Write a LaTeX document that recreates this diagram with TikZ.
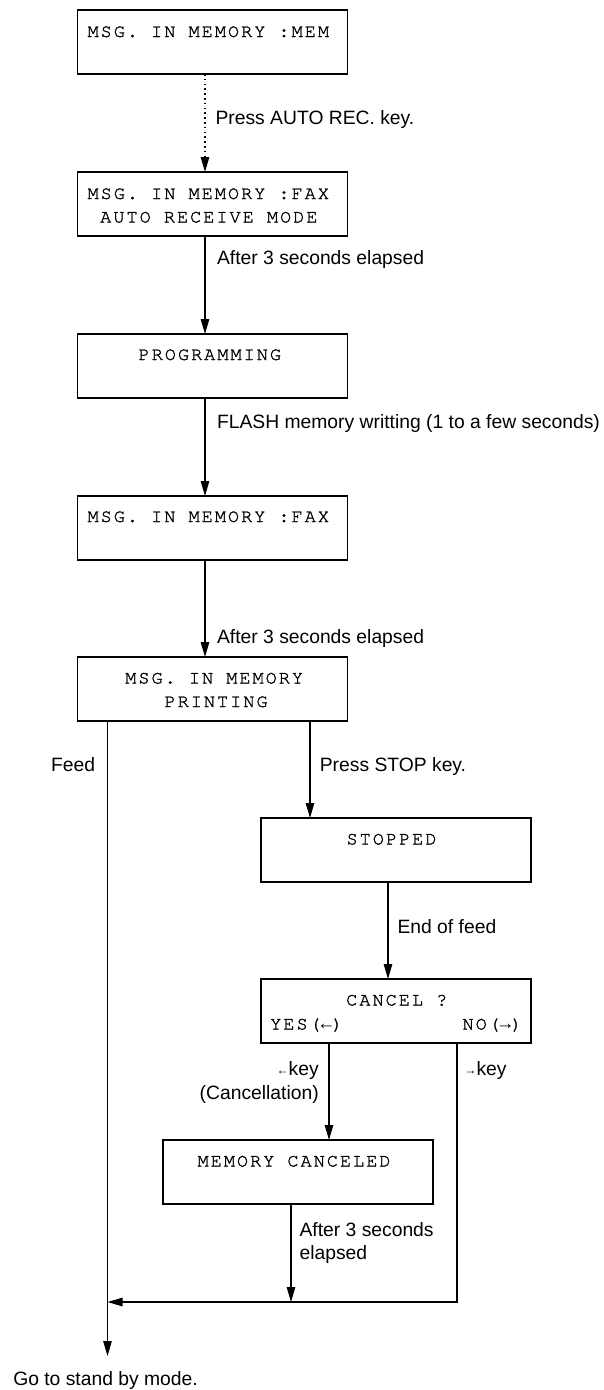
\documentclass[tikz,border=0pt]{standalone}
\usepackage{fontspec}
\usepackage{graphicx}
\setmainfont{Liberation Sans}
\newfontfamily\lcdfont[LetterSpace=11,FakeBold=1.3]{TeX Gyre Cursor}
\newfontfamily\arrfont[LetterSpace=11]{Liberation Mono}
\usetikzlibrary{arrows.meta}
\newcommand{\smallarrow}[1]{\raisebox{1pt}{\fontsize{12}{12}\selectfont #1}}
\newcommand{\lcdarrow}[1]{{\arrfont #1}}
\begin{document}
\begin{tikzpicture}[x=1pt,y=-1pt,line width=1.1pt,
  box/.style={draw,rectangle,minimum width=270pt,minimum height=64pt,inner sep=0pt,outer sep=0pt},
  lcd/.style={font=\lcdfont\fontsize{18.5}{18.5}\selectfont,inner sep=0pt,anchor=base west},
  lab/.style={font=\fontsize{19.3}{19.3}\selectfont,inner sep=0pt,anchor=base west},
  labr/.style={lab,anchor=base east},
  arr/.style={-{Triangle[length=15pt,width=8.5pt]}},
  dotarr/.style={arr,dash pattern=on 1.6pt off 3.2pt}]
\useasboundingbox (0,0) rectangle (604,1390);
% boxes
\node[box] (b1) at (212.6,42) {};
\node[box] (b2) at (212.6,204) {};
\node[box] (b3) at (212.6,366) {};
\node[box] (b4) at (212.6,528) {};
\node[box] (b5) at (212.6,689) {};
\node[box] (b6) at (396,850) {};
\node[box] (b7) at (396,1011) {};
\node[box] (b8) at (298,1172) {};
% box texts
\node[lcd] (t1) at (87,37) {MSG. IN MEMORY :MEM};
\node[lcd] (t2a) at (87,199) {MSG. IN MEMORY :FAX};
\node[lcd] (t2b) at (99.7,222.5) {AUTO RECEIVE MODE};
\node[lcd] (t3) at (138,360) {PROGRAMMING};
\node[lcd] (t4) at (87,522) {MSG. IN MEMORY :FAX};
\node[lcd] (t5a) at (124.7,683.5) {MSG. IN MEMORY};
\node[lcd] (t5b) at (164,707) {PRINTING};
\node[lcd] (t6) at (346,844.5) {STOPPED};
\node[lcd] (t7a) at (345.7,1005.5) {CANCEL ?};
\node[lcd] (t7b) at (269.7,1029.5) {YES(\lcdarrow{←})};
\node[lcd] (t7c) at (462,1029.5) {NO(\lcdarrow{→})};
\node[lcd] (t8) at (197,1166.5) {MEMORY CANCELED};
% labels
\node[lab] (l1) at (215,124) {Press AUTO REC. key.};
\node[lab] (l2) at (216.5,264) {After 3 seconds elapsed};
\node[lab] (l3) at (216.5,428) {FLASH memory writting (1 to a few seconds)};
\node[lab] (l4) at (216.5,643) {After 3 seconds elapsed};
\node[labr] (l5) at (95.7,771) {Feed};
\node[lab] (l6) at (319.3,771) {Press STOP key.};
\node[lab] (l7) at (397,933) {End of feed};
\node[labr] (l8) at (319.3,1075) {\smallarrow{←}key};
\node[labr] (l9) at (319.3,1099.5) {(Cancellation)};
\node[lab] (l10) at (464,1075) {\smallarrow{→}key};
\node[lab] (l11) at (299,1236.5) {After 3 seconds};
\node[lab] (l12) at (299,1259.5) {elapsed};
\node[lab] (l13) at (12.7,1385) {Go to stand by mode.};
% reference coordinates
\coordinate (colx) at (205,0);
\coordinate (feedx) at (107.5,0);
\coordinate (stopx) at (310,0);
\coordinate (endx) at (388,0);
\coordinate (yesx) at (329,0);
\coordinate (nox) at (457,0);
\coordinate (mcx) at (291,0);
\coordinate (join) at (107.5,1302);
\coordinate (feedend) at (107.5,1356);
% connectors
\draw[dotarr] (b1.south -| colx) -- (b2.north -| colx);
\draw[arr] (b2.south -| colx) -- (b3.north -| colx);
\draw[arr] (b3.south -| colx) -- (b4.north -| colx);
\draw[arr] (b4.south -| colx) -- (b5.north -| colx);
\draw[arr] (b5.south -| feedx) -- (feedend);
\draw[arr] (b5.south -| stopx) -- (b6.north -| stopx);
\draw[arr] (b6.south -| endx) -- (b7.north -| endx);
\draw[arr] (b7.south -| yesx) -- (b8.north -| yesx);
\draw[arr] (b8.south -| mcx) -- (mcx |- join);
\draw[arr] (b7.south -| nox) |- (join);
\end{tikzpicture}
\end{document}
